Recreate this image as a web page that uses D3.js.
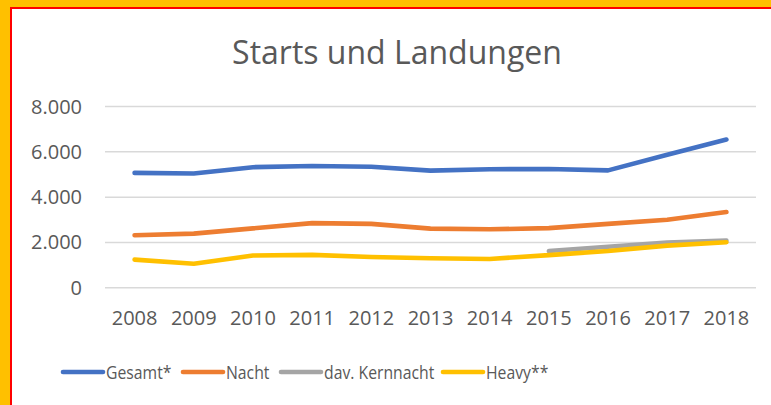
<!DOCTYPE html>
<html><head><meta charset="utf-8">
<script src="https://cdn.jsdelivr.net/npm/d3@7"></script>
<style>body{margin:0;background:#FFC000;}svg{display:block;}</style>
</head><body>
<script>
const years = ["2008","2009","2010","2011","2012","2013","2014","2015","2016","2017","2018"];
const gesamt = [5050,5020,5300,5350,5320,5150,5210,5220,5160,5850,6520];
const nacht = [2300,2370,2600,2830,2800,2590,2560,2610,2800,2980,3320];
const kernnacht = [null,null,null,null,null,null,null,1600,1790,1980,2060];
const heavy = [1220,1040,1400,1430,1340,1280,1250,1420,1600,1840,1990];
const yTicks = [0,2000,4000,6000,8000];
const seriesNames = ["Gesamt*","Nacht","dav. Kernnacht","Heavy**"];
const colors = ["#4472C4","#ED7D31","#A5A5A5","#FFC000"];

const W=771,H=405;
const svg=d3.select("body").append("svg").attr("width",W).attr("height",H);
svg.append("rect").attr("width",W).attr("height",H).attr("fill","#FFC000");
svg.append("rect").attr("x",11).attr("y",8).attr("width",W+20).attr("height",H+20)
  .attr("fill","#fff").attr("stroke","#FF0000").attr("stroke-width",2);

const font="'Open Sans', sans-serif";
const tc="#595959";
svg.append("text").attr("x",397).attr("y",64).attr("text-anchor","middle")
  .attr("font-family",font).attr("font-size",32).attr("fill",tc).text("Starts und Landungen");

const x=d3.scaleBand().domain(years).range([105,756]);
const y=d3.scaleLinear().domain([0,8000]).range([287.3,106]);

const yAxis=svg.append("g").attr("transform","translate(105,0)")
  .call(d3.axisLeft(y).tickValues(yTicks).tickSize(-651).tickFormat(d=>d3.format(",")(d).replace(/,/g,".")));
yAxis.select(".domain").remove();
yAxis.selectAll("line").attr("stroke","#D9D9D9").attr("stroke-width",1.5);
yAxis.selectAll("text").attr("x",-23).attr("fill",tc).attr("font-family",font).attr("font-size",20).attr("dy","0.35em");

const xAxis=svg.append("g").attr("transform","translate(0,287.3)")
  .call(d3.axisBottom(x).tickSize(0));
xAxis.select(".domain").remove();
xAxis.selectAll("text").attr("fill",tc).attr("font-family",font).attr("font-size",20).attr("dy",0).attr("y",38);

const data=[gesamt,nacht,kernnacht,heavy];
const line=d3.line().defined(d=>d!=null).x((d,i)=>x(years[i])+x.bandwidth()/2).y(d=>y(d));
[2,3,1,0].forEach(k=>{
  svg.append("path").datum(data[k]).attr("d",line).attr("fill","none")
    .attr("stroke",colors[k]).attr("stroke-width",4.6).attr("stroke-linecap","round").attr("stroke-linejoin","round");
});

// legend
const legX=[63,183,281,443];
const lg=svg.append("g");
seriesNames.forEach((n,i)=>{
  lg.append("line").attr("x1",legX[i]).attr("x2",legX[i]+40).attr("y1",372).attr("y2",372)
    .attr("stroke",colors[i]).attr("stroke-width",4.6).attr("stroke-linecap","round");
  lg.append("g").attr("transform",`translate(${legX[i]+43},372) scale(0.83,1)`)
    .append("text").attr("dy","0.36em")
    .attr("font-family",font).attr("font-size",19).attr("fill",tc).text(n);
});
</script>
</body></html>
